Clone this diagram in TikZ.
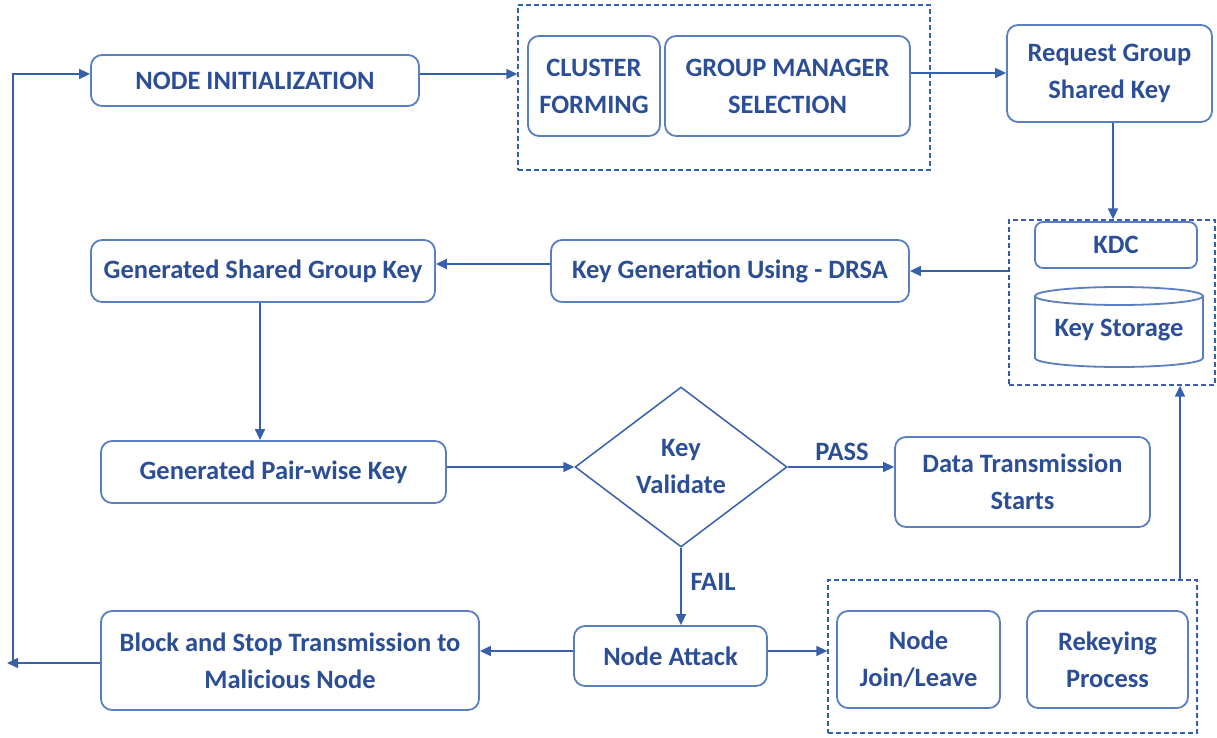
\documentclass[tikz,border=0pt]{standalone}
\usepackage{fontspec}
\setmainfont{Carlito}
\usetikzlibrary{shapes.geometric,arrows.meta}
\definecolor{txtblue}{HTML}{2B4E96}
\definecolor{lineblue}{HTML}{3760AC}
\definecolor{boxblue}{HTML}{5A7EC2}
\begin{document}
\begin{tikzpicture}[x=1pt,y=-1pt,
  every node/.style={font=\bfseries\fontsize{26.5}{37}\selectfont, text=txtblue, align=center, inner sep=0pt},
  box/.style={draw=boxblue, line width=1.8pt, rounded corners=11pt},
  grp/.style={draw=lineblue, line width=1.3pt, dash pattern=on 5pt off 3pt},
  arr/.style={draw=lineblue, line width=1.5pt, -{Triangle[length=11pt,width=10pt]}},
  ln/.style={draw=lineblue, line width=1.5pt},
  lbl/.style={}]
\useasboundingbox (0,0) rectangle (1217,738);
% top row
\node[box, minimum width=328, minimum height=51] (init) at (255,80.5) {NODE INITIALIZATION};
\node[grp, minimum width=412, minimum height=165] (grp1) at (724,87.5) {};
\node[box, minimum width=132, minimum height=100] (cluster) at (594,86) {CLUSTER\\FORMING};
\node[box, minimum width=245, minimum height=100] (gm) at (787.5,86) {GROUP MANAGER\\SELECTION};
\node[box, minimum width=205, minimum height=97] (req) at (1109.5,73.5) {Request Group\\Shared Key};
% KDC group
\node[grp, minimum width=206, minimum height=165] (kdcgrp) at (1112,302.5) {};
\node[box, rounded corners=8pt, minimum width=162, minimum height=46] (kdc) at (1116,245) {KDC};
\draw[draw=boxblue, line width=1.8pt] (1119,296) ellipse [x radius=84, y radius=9];
\draw[draw=boxblue, line width=1.8pt] (1035,296) -- (1035,358) arc[start angle=180, end angle=0, x radius=84, y radius=9] -- (1203,296);
\node (storage) at (1119,330) {Key Storage};
% second row
\node[box, minimum width=358, minimum height=62] (keygen) at (730,271) {Key Generation Using - DRSA};
\node[box, minimum width=344, minimum height=62] (gsk) at (263,271) {Generated Shared Group Key};
% third row
\node[box, minimum width=345, minimum height=62] (pair) at (273.5,472) {Generated Pair-wise Key};
\node[diamond, draw=lineblue, line width=1.5pt, minimum width=212, minimum height=160] (dia) at (681,467) {Key\\Validate};
\node[box, minimum width=255, minimum height=90] (data) at (1022.5,482) {Data Transmission\\Starts};
% bottom row
\node[box, minimum width=193, minimum height=60] (attack) at (670.5,656) {Node Attack};
\node[box, minimum width=378, minimum height=99] (block) at (290,660.5) {Block and Stop Transmission to\\Malicious Node};
\node[grp, minimum width=369, minimum height=153] (grp3) at (1012.5,656.5) {};
\node[box, minimum width=163, minimum height=97] (join) at (918.5,659.5) {Node\\Join/Leave};
\node[box, minimum width=161, minimum height=97] (rekey) at (1107.5,659.5) {Rekeying\\Process};
% labels
\node[lbl] (pass) at (842,452) {PASS};
\node[lbl] (fail) at (713,582) {FAIL};
% connectors
\coordinate (leftend) at (7,663);
\coordinate (corner) at (13,663);
\draw[arr] (block.west |- 0,663) -- (leftend);
\draw[arr] (corner) |- (init.west |- 0,74);
\draw[arr] (init.east |- 0,74) -- (grp1.west |- 0,74);
\draw[arr] (gm.east |- 0,73) -- (req.west |- 0,73);
\draw[arr] (req.south -| 1113,0) -- (kdcgrp.north -| 1113,0);
\draw[arr] (kdcgrp.west |- 0,271) -- (keygen.east |- 0,271);
\draw[arr] (keygen.west |- 0,264) -- (gsk.east |- 0,264);
\draw[arr] (gsk.south -| 260,0) -- (pair.north -| 260,0);
\draw[arr] (pair.east |- 0,467) -- (dia.west);
\draw[arr] (dia.east) -- (data.west |- dia.east);
\draw[arr] (dia.south) -- (attack.north -| dia.south);
\draw[arr] (attack.west |- 0,651) -- (block.east |- 0,651);
\draw[arr] (attack.east |- 0,651) -- (grp3.west |- 0,651);
\draw[arr] (grp3.north -| 1180,0) -- (kdcgrp.south -| 1180,0);
\end{tikzpicture}
\end{document}
